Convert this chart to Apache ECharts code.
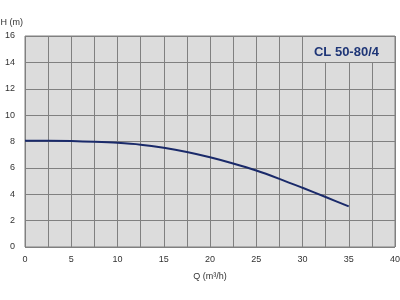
<!DOCTYPE html>
<html lang="en">
<head>
<meta charset="UTF-8">
<title>CL 50-80/4</title>
<script src="https://cdn.jsdelivr.net/npm/echarts@6/dist/echarts.min.js"></script>
<style>
	html, body { margin: 0; padding: 0; background: #fff; }
	#main { width: 400px; height: 300px; }
</style>
</head>
<body>
<div id="main"></div>
<script>
// 流量 Q (m3/h)
var flow = [0, 2.5, 5, 7.5, 10, 12.5, 15, 17.5, 20, 22.5, 25, 27.5, 30, 32.5, 35];
// 扬程 H (m)
var head = [8.05, 8.05, 8.03, 7.98, 7.9, 7.76, 7.52, 7.2, 6.8, 6.33, 5.8, 5.17, 4.49, 3.79, 3.08];
var pumpName = 'CL 50-80/4';

var points = [];
for (var i = 0; i < flow.length; i++) {
	points.push([flow[i], head[i]]);
}

var chart = echarts.init(document.getElementById('main'));
var option = {
	animation: false,
	textStyle: { fontFamily: 'Liberation Sans, Arial, sans-serif' },
	title: {
		text: pumpName,
		right: 16,
		top: 41,
		z: 10,
		textStyle: { color: '#1f3677', fontSize: 13, fontWeight: 'bold', fontFamily: 'Liberation Sans' }
	},
	graphic: [{
		type: 'rect',
		z: 5,
		shape: { x: 304, y: 37, width: 90, height: 25 },
		style: { fill: '#dcdcdc' }
	}],
	grid: {
		left: 25, right: 5, top: 36, bottom: 53,
		outerBoundsMode: 'none',
		containLabel: false,
		show: true,
		backgroundColor: '#dcdcdc',
		borderColor: '#808080',
		borderWidth: 1
	},
	xAxis: {
		type: 'value',
		min: 0, max: 40, interval: 2.5,
		name: 'Q (m³/h)',
		nameLocation: 'middle',
		nameGap: 25,
		nameTextStyle: { color: '#333', fontSize: 9 },
		axisLine: { show: false },
		axisTick: { show: false },
		axisLabel: {
			color: '#333', fontSize: 9, margin: 8,
			formatter: function (v) { return v % 5 === 0 ? String(v) : ''; }
		},
		splitLine: { show: true, lineStyle: { color: '#808080', width: 1 } }
	},
	yAxis: {
		type: 'value',
		min: 0, max: 16, interval: 2,
		name: 'H (m)',
		nameLocation: 'end',
		nameGap: 9,
		nameTextStyle: { color: '#333', fontSize: 9, align: 'right', padding: [0, 2, 0, 0] },
		axisLine: { show: false },
		axisTick: { show: false },
		axisLabel: { color: '#333', fontSize: 9, margin: 10 },
		splitLine: { show: true, lineStyle: { color: '#808080', width: 1 } }
	},
	series: [{
		type: 'line',
		data: points,
		smooth: 0.3,
		symbol: 'none',
		lineStyle: { color: '#1a2a6a', width: 2 }
	}]
};
chart.setOption(option);
</script>
</body>
</html>
